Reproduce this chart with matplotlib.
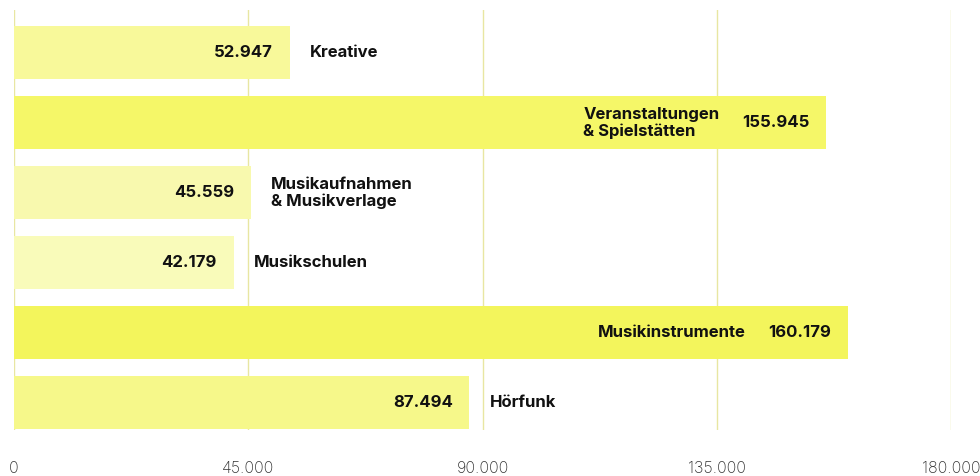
import matplotlib.pyplot as plt

# Data
categories = ['Kreative', 'Veranstaltungen\n& Spielstätten', 'Musikaufnahmen\n& Musikverlage',
              'Musikschulen', 'Musikinstrumente', 'Hörfunk']
values = [52947, 155945, 45559, 42179, 160179, 87494]
value_labels = ['52.947', '155.945', '45.559', '42.179', '160.179', '87.494']
bar_colors = ['#f8f99a', '#f5f768', '#f8f9ae', '#f9fbba', '#f3f55c', '#f6f88a']
ticks = [0, 45000, 90000, 135000, 180000]
tick_labels = ['0', '45.000', '90.000', '135.000', '180.000']

plt.rcParams['font.family'] = ['Inter', 'DejaVu Sans']

fig = plt.figure(figsize=(9.8, 4.76), dpi=100)
ax = fig.add_axes([14 / 980, 1 - 430 / 476, 937 / 980, 420 / 476])

ypos = list(range(len(values)))
ax.barh(ypos, values, height=0.76, color=bar_colors, zorder=2)

ax.set_xlim(0, 180000)
ax.set_ylim(5.39, -0.61)
ax.set_xticks(ticks)
ax.set_xticklabels(tick_labels)
ax.set_yticks([])
ax.tick_params(axis='x', length=0, pad=22, labelsize=11.5, labelcolor='#333333')
for lab in ax.get_xticklabels():
    lab.set_fontweight('light')
ax.grid(axis='x', color='#e8e6a2', linewidth=1, zorder=0)
for s in ax.spines.values():
    s.set_visible(False)

fig.canvas.draw()
renderer = fig.canvas.get_renderer()

for i, (v, vl, cat) in enumerate(zip(values, value_labels, categories)):
    t = ax.annotate(vl, xy=(v, i), xytext=(-12, 0), textcoords='offset points',
                    ha='right', va='center', fontsize=12, fontweight='bold',
                    color='#111111', zorder=3)
    if v < 120000:
        ax.annotate(cat, xy=(v, i), xytext=(14.5, 0), textcoords='offset points',
                    ha='left', va='center', fontsize=12, fontweight='bold',
                    color='#111111', linespacing=1.15, zorder=3)
    else:
        w = t.get_window_extent(renderer).width * 72 / fig.dpi
        ax.annotate(cat, xy=(v, i), xytext=(-12 - w - 16, 0), textcoords='offset points',
                    ha='right', va='center', multialignment='left', fontsize=12,
                    fontweight='bold', color='#111111', linespacing=1.15, zorder=3)

fig.savefig('out.png', dpi=100)
